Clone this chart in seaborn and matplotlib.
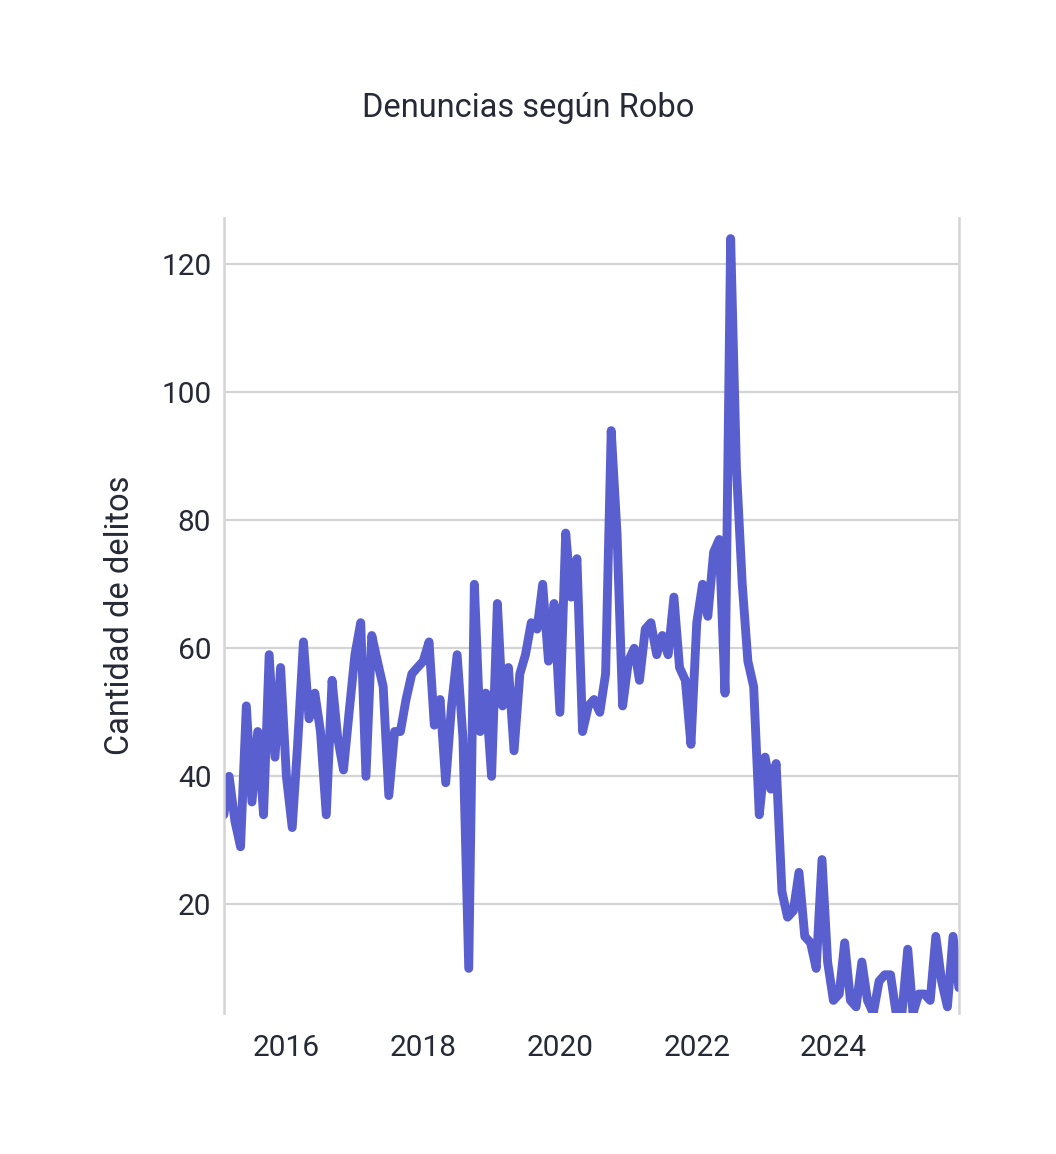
import seaborn as sns
import matplotlib.pyplot as plt
import matplotlib.dates as mdates
import pandas as pd

# Denuncias mensuales (feb 2015 - nov 2025)
inicio = "2015-02-01"
delitos = [
    34, 40, 33, 29, 51, 36, 47, 34, 59, 43, 57, 40,
    32, 45, 61, 49, 53, 47, 34, 55, 46, 41, 50, 59,
    64, 40, 62, 58, 54, 37, 47, 47, 52, 56, 57, 58,
    61, 48, 52, 39, 51, 59, 46, 10, 70, 47, 53, 40,
    67, 51, 57, 44, 56, 59, 64, 63, 70, 58, 67, 50,
    78, 68, 74, 47, 51, 52, 50, 56, 94, 78, 51, 58,
    60, 55, 63, 64, 59, 62, 59, 68, 57, 55, 45, 64,
    70, 65, 75, 77, 53, 124, 88, 70, 58, 54, 34, 43,
    38, 42, 22, 18, 19, 25, 15, 14, 10, 27, 11, 5,
    6, 14, 5, 4, 11, 5, 3, 8, 9, 9, 3, 3,
    13, 3, 6, 6, 5, 15, 8, 4, 15, 7,
]
meses = pd.date_range(inicio, periods=len(delitos), freq="MS")
anios_ticks = ["2016", "2018", "2020", "2022", "2024"]
y_ticks = [20, 40, 60, 80, 100, 120]

df = pd.DataFrame({"fecha": meses, "delitos": delitos})

sns.set_style("white")
plt.rcParams["font.family"] = ["Roboto", "DejaVu Sans"]
texto = "#262a36"

fig = plt.figure(figsize=(10.56, 11.54), dpi=100)
ax = fig.add_axes([0.212, 0.122, 0.696, 0.689])

sns.lineplot(data=df, x="fecha", y="delitos", ax=ax, color="#5a5fd0",
             linewidth=6.4, solid_joinstyle="round", solid_capstyle="round")

ax.set_xlim(meses[0], meses[-1])
ax.set_ylim(3, 127.2)
ax.set_yticks(y_ticks)
ax.set_xticks([pd.Timestamp(a + "-01-01") for a in anios_ticks])
ax.xaxis.set_major_formatter(mdates.DateFormatter("%Y"))

ax.grid(axis="y", color="#d4d4d4", linewidth=1.6)
ax.grid(axis="x", visible=False)
ax.set_axisbelow(True)
for lado in ["top", "bottom"]:
    ax.spines[lado].set_visible(False)
for lado in ["left", "right"]:
    ax.spines[lado].set_color("#d4d4d4")
    ax.spines[lado].set_linewidth(1.8)

ax.tick_params(axis="y", length=0, pad=9, labelsize=21.5, labelcolor=texto)
ax.tick_params(axis="x", length=0, pad=15, labelsize=21.5, labelcolor=texto)
ax.set_xlabel("")
ax.set_ylabel("Cantidad de delitos", fontsize=23.5, color=texto, labelpad=18)

fig.text(0.5, 0.906, "Denuncias según Robo", ha="center", va="center",
         fontsize=23.5, color=texto)

plt.savefig("out.png", dpi=100)
plt.close()
